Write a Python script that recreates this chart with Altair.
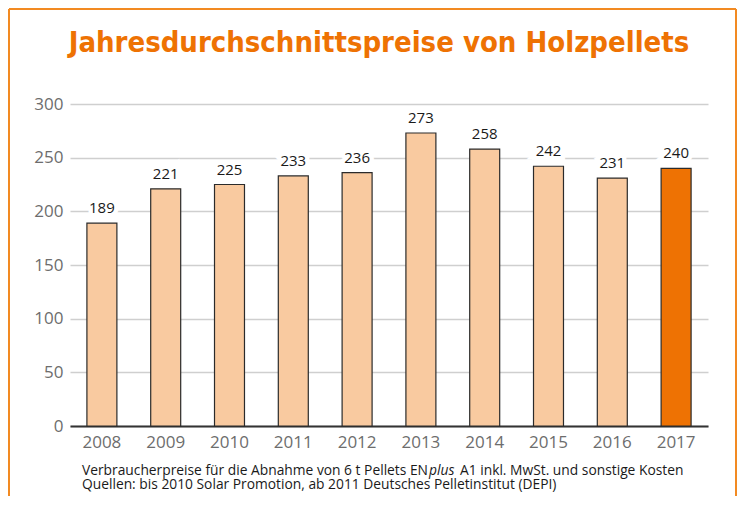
import altair as alt
import pandas as pd

years = ["2008", "2009", "2010", "2011", "2012", "2013", "2014", "2015", "2016", "2017"]
prices = [189, 221, 225, 233, 236, 273, 258, 242, 231, 240]
y_ticks = [0, 50, 100, 150, 200, 250, 300]

title_text = "Jahresdurchschnittspreise von Holzpellets"
note1_a = "Verbraucherpreise für die Abnahme von 6 t Pellets EN"
note1_b = "plus"
note1_c = "A1 inkl. MwSt. und sonstige Kosten"
note2 = "Quellen: bis 2010 Solar Promotion, ab 2011 Deutsches Pelletinstitut (DEPI)"

ORANGE = "#ee7203"
PEACH = "#f9caa0"
FRAME = "#f28a22"
FONT = "Open Sans"
TITLE_FONT = "DejaVu Sans Condensed, Liberation Sans Narrow, Roboto, sans-serif"

df = pd.DataFrame({"Jahr": years, "Preis": prices})
one = pd.DataFrame({"k": [0]})

W, H = 638, 322

x_enc = alt.X("Jahr:N", sort=years,
              scale=alt.Scale(paddingInner=0.53, paddingOuter=0.265),
              axis=alt.Axis(title=None, labelAngle=0, ticks=False, domain=True,
                            domainColor="#333333", domainWidth=2, labelPadding=8,
                            labelFontSize=17, labelColor="#6d6d6d", labelFont=FONT,
                            grid=False))
y_enc = alt.Y("Preis:Q", scale=alt.Scale(domain=[0, 300], nice=False),
              axis=alt.Axis(title=None, values=y_ticks, grid=True, gridColor="#cfcfcf",
                            gridWidth=1.5, domain=False, ticks=False, labelPadding=7,
                            labelFontSize=17, labelColor="#6d6d6d", labelFont=FONT))

bars = alt.Chart(df).mark_bar(stroke="#2b2b2b", strokeWidth=1.2).encode(
    x=x_enc, y=y_enc,
    color=alt.condition(alt.datum.Jahr == "2017", alt.value(ORANGE), alt.value(PEACH)),
)

halo = alt.Chart(df).mark_text(dy=-10, baseline="alphabetic", fontSize=15, font=FONT,
                               color="white", stroke="white", strokeWidth=9).encode(
    x=alt.X("Jahr:N", sort=years), y="Preis:Q", text="Preis:Q")
labels = alt.Chart(df).mark_text(dy=-10, baseline="alphabetic", fontSize=15, font=FONT,
                                 color="#1a1a1a").encode(
    x=alt.X("Jahr:N", sort=years), y="Preis:Q", text="Preis:Q")

base1 = alt.Chart(one)
title = base1.mark_text(fontSize=29, fontWeight="bold", font=TITLE_FONT,
                        color=ORANGE, align="center", baseline="alphabetic").encode(
    x=alt.value(309), y=alt.value(-52), text=alt.value(title_text))

NFS = 13.8
split_x = 358
n1a = base1.mark_text(fontSize=NFS, font=FONT, color="#1a1a1a", align="right",
                      baseline="alphabetic").encode(
    x=alt.value(split_x), y=alt.value(371), text=alt.value(note1_a))
n1b = base1.mark_text(fontSize=NFS, font=FONT, color="#1a1a1a", align="left",
                      fontStyle="italic", baseline="alphabetic").encode(
    x=alt.value(split_x + 1), y=alt.value(371), text=alt.value(note1_b))
n1c = base1.mark_text(fontSize=NFS, font=FONT, color="#1a1a1a", align="left",
                      baseline="alphabetic").encode(
    x=alt.value(390), y=alt.value(371), text=alt.value(note1_c))
n2 = base1.mark_text(fontSize=NFS, font=FONT, color="#1a1a1a", align="left",
                     baseline="alphabetic").encode(
    x=alt.value(12), y=alt.value(385), text=alt.value(note2))

frame_top = base1.mark_rule(color=FRAME, strokeWidth=2).encode(
    x=alt.value(-61), x2=alt.value(666), y=alt.value(-95))
frame_left = base1.mark_rule(color=FRAME, strokeWidth=2).encode(
    x=alt.value(-61), y=alt.value(-95), y2=alt.value(392))
frame_right = base1.mark_rule(color=FRAME, strokeWidth=2).encode(
    x=alt.value(666), y=alt.value(-95), y2=alt.value(392))

chart = alt.layer(bars, halo, labels, title, n1a, n1b, n1c, n2,
                  frame_top, frame_left, frame_right).properties(
    width=W, height=H, padding=0, background="white"
).configure_view(stroke=None)

chart.save("out.html", embed_options={"renderer": "svg", "actions": False})
